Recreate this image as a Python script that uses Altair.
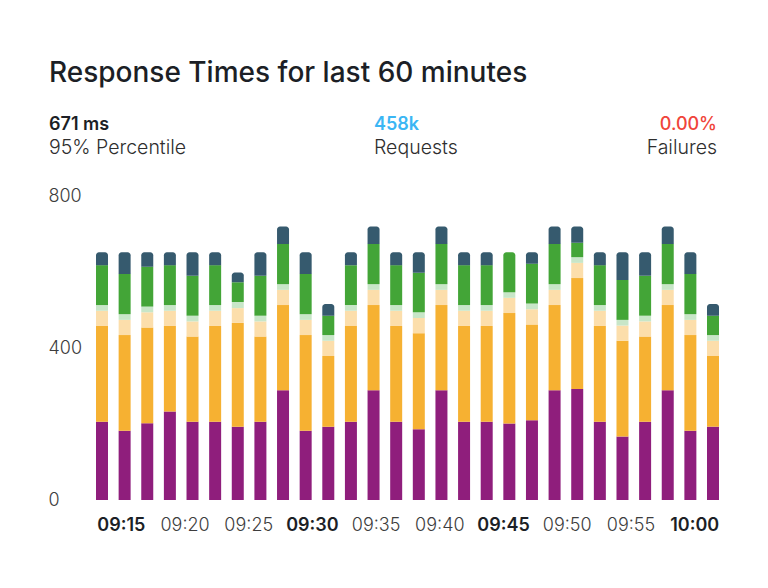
import altair as alt
import pandas as pd

# ---- data ----
slots = list(range(28))
purple = [206, 182, 202, 233, 206, 206, 193, 206, 289, 182, 193, 206, 289, 206,
          186, 289, 206, 206, 201, 210, 289, 292, 206, 167, 206, 289, 182, 193]
orange = [252, 252, 252, 225, 224, 252, 273, 224, 224, 252, 186, 252, 224, 252,
          253, 224, 252, 252, 291, 252, 224, 292, 252, 252, 224, 224, 252, 186]
peach = [40, 40, 40, 40, 40, 40, 39, 40, 40, 40, 40, 40, 40, 40,
         40, 40, 40, 40, 40, 40, 40, 40, 40, 40, 40, 40, 40, 40]
lightgreen = [15, 15, 15, 15, 15, 15, 16, 15, 15, 15, 15, 15, 15, 15,
              15, 15, 15, 15, 15, 15, 15, 15, 15, 15, 15, 15, 15, 15]
green = [105, 106, 105, 105, 105, 105, 52, 105, 106, 106, 51, 105, 106, 105,
         104, 106, 105, 105, 105, 105, 106, 38, 105, 105, 105, 106, 106, 51]
dark = [34, 57, 38, 34, 62, 34, 26, 62, 46, 57, 31, 34, 46, 34,
        54, 46, 34, 34, 0, 30, 46, 43, 34, 73, 62, 46, 57, 31]

series_names = ["p25", "p50", "p75", "p90", "p95", "p99"]
series_colors = ["#8f1e7c", "#f6b132", "#fcdeab", "#c8e6c8", "#43a537", "#365a6e"]

time_labels = ["09:15", "09:20", "09:25", "09:30", "09:35",
               "09:40", "09:45", "09:50", "09:55", "10:00"]
bold_labels = ["09:15", "09:30", "09:45", "10:00"]
y_ticks = [0, 400, 800]

title_text = "Response Times for last 60 minutes"
stat_values = ["671 ms", "458k", "0.00%"]
stat_labels = ["95% Percentile", "Requests", "Failures"]

# ---- build stacked table ----
series_vals = [purple, orange, peach, lightgreen, green, dark]
rows = []
for i in slots:
    vals = [s[i] for s in series_vals]
    top_idx = max(k for k, v in enumerate(vals) if v > 0)
    base = 0
    for k, (name, v) in enumerate(zip(series_names, vals)):
        if v <= 0:
            continue
        rows.append(dict(slot=i, series=name, y0=base, y1=base + v, top=(k == top_idx)))
        base += v
df = pd.DataFrame(rows)

FONT = "Inter"

x_bar = alt.X("slot:O", axis=None, scale=alt.Scale(paddingInner=0.47, paddingOuter=0))
y_axis = alt.Axis(values=y_ticks, grid=False, domain=False, ticks=False, tickSize=0,
                  labelAlign="left", labelPadding=48, labelFontSize=18,
                  labelColor="#3d3d3d", labelFont=FONT, labelFontWeight=300, title=None)
y_enc = alt.Y("y0:Q", scale=alt.Scale(domain=[0, 800], nice=False), axis=y_axis)
color = alt.Color("series:N", scale=alt.Scale(domain=series_names, range=series_colors),
                  legend=None)

base_bars = alt.Chart(df).transform_filter("!datum.top").mark_bar().encode(
    x=x_bar, y=y_enc, y2="y1:Q", color=color)
top_bars = alt.Chart(df).transform_filter("datum.top").mark_bar(
    cornerRadiusTopLeft=3, cornerRadiusTopRight=3).encode(
    x=x_bar, y=y_enc, y2="y1:Q", color=color)

bold_list = ",".join("'" + b + "'" for b in bold_labels)
label_layer = alt.Chart(pd.DataFrame({"label": time_labels})).mark_point(opacity=0).encode(
    x=alt.X("label:N", sort=time_labels,
            scale=alt.Scale(type="point", padding=0.39),
            axis=alt.Axis(orient="bottom", title=None, domain=False, ticks=False,
                          labelAngle=0, labelFontSize=18, labelFont=FONT, labelPadding=16,
                          labelColor=alt.expr(f"indexof([{bold_list}], datum.value) >= 0 ? '#1c1f26' : '#3d3d3d'"),
                          labelFontWeight=alt.expr(f"indexof([{bold_list}], datum.value) >= 0 ? 600 : 300")))
)


def txt(text, x, y, size, weight, col, align="left"):
    return alt.Chart(pd.DataFrame({"t": [text]})).mark_text(
        align=align, baseline="alphabetic", fontSize=size, fontWeight=weight,
        font=FONT, color=col).encode(x=alt.value(x), y=alt.value(y), text="t:N")


texts = [
    txt(title_text, -47, -114, 28, 500, "#1c1f26"),
    txt(stat_values[0], -47, -66, 18, 600, "#1c1f26"),
    txt(stat_labels[0], -47, -42, 19.5, 300, "#2e2e2e"),
    txt(stat_values[1], 278, -66, 18, 600, "#3bb6f4"),
    txt(stat_labels[1], 278, -42, 19.5, 300, "#2e2e2e"),
    txt(stat_values[2], 621, -66, 18, 500, "#f0443a", "right"),
    txt(stat_labels[2], 621, -42, 19.5, 300, "#2e2e2e", "right"),
]

chart = alt.layer(base_bars, top_bars, label_layer, *texts).resolve_scale(
    x="independent"
).properties(
    width=623, height=304,
    padding={"left": 88, "top": 188, "right": 41, "bottom": 80},
    autosize=alt.AutoSizeParams(type="none"),
    background="white",
).configure_view(stroke=None)

chart.save("out.html", embed_options={"renderer": "svg", "actions": False})
